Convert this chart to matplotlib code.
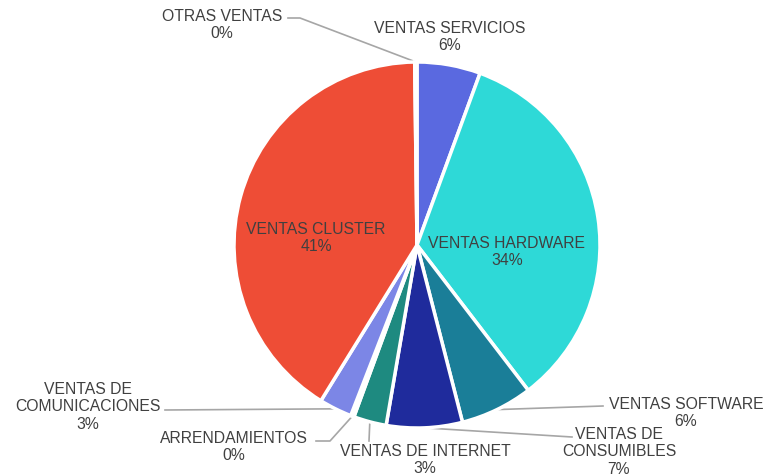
import matplotlib.pyplot as plt
import numpy as np

plt.rcParams['font.family'] = ['Liberation Sans', 'DejaVu Sans']

# slices, clockwise from 12 o'clock
categorias = ['VENTAS SERVICIOS', 'VENTAS HARDWARE', 'VENTAS SOFTWARE',
              'VENTAS DE\nCONSUMIBLES', 'VENTAS DE INTERNET', 'ARRENDAMIENTOS',
              'VENTAS DE\nCOMUNICACIONES', 'VENTAS CLUSTER', 'OTRAS VENTAS']
valores = [5.6, 34.0, 6.4, 6.7, 2.9, 0.3, 2.9, 41.0, 0.2]
colores = ['#5A69E0', '#2ED9D7', '#1A7E98', '#1F2B9C', '#1E8A80',
           '#A6EEF2', '#7C86E6', '#EE4D36', '#F3A08F']

W, H = 767, 477
cx, cy, R = 417, 246, 183


def fy(y):
    return H - y


# label placement (pixel coords, y down): text center, leader path end points
etiquetas = {
    'VENTAS SERVICIOS': ((450, 37), None),
    'VENTAS HARDWARE': ((507, 252), None),
    'VENTAS CLUSTER': ((316, 238), None),
    'VENTAS SOFTWARE': ((686, 413), [(603, 407)]),
    'VENTAS DE\nCONSUMIBLES': ((619, 452), [(572, 438)]),
    'VENTAS DE INTERNET': ((425, 460), [(369, 442)]),
    'ARRENDAMIENTOS': ((234, 447), [(330, 442), (316, 442)]),
    'VENTAS DE\nCOMUNICACIONES': ((88, 407), [(165, 411)]),
    'OTRAS VENTAS': ((222, 25), [(300, 19), (288, 19)]),
}

fig = plt.figure(figsize=(W / 100, H / 100), dpi=100)
ax = fig.add_axes([0, 0, 1, 1])

wedges, _ = ax.pie(valores, colors=colores, startangle=90, counterclock=False,
                   center=(cx, fy(cy)), radius=R, frame=True,
                   wedgeprops=dict(edgecolor='white', linewidth=2.5))
ax.set_xlim(0, W)
ax.set_ylim(0, H)
ax.axis('off')

for w, cat, val in zip(wedges, categorias, valores):
    (tx, ty), path = etiquetas[cat]
    txt = '%s\n%d%%' % (cat, round(val))
    ax.text(tx, fy(ty), txt, ha='center', va='center', fontsize=11.3,
            color='#404040', linespacing=1.2)
    if path:
        ang = np.deg2rad((w.theta1 + w.theta2) / 2)
        ax0 = cx + R * np.cos(ang)
        ay0 = fy(cy) + R * np.sin(ang)
        xs = [ax0] + [p[0] for p in path]
        ys = [ay0] + [fy(p[1]) for p in path]
        ax.plot(xs, ys, color='#A6A6A6', linewidth=1.2, zorder=0)

fig.savefig('out.png', dpi=100)
